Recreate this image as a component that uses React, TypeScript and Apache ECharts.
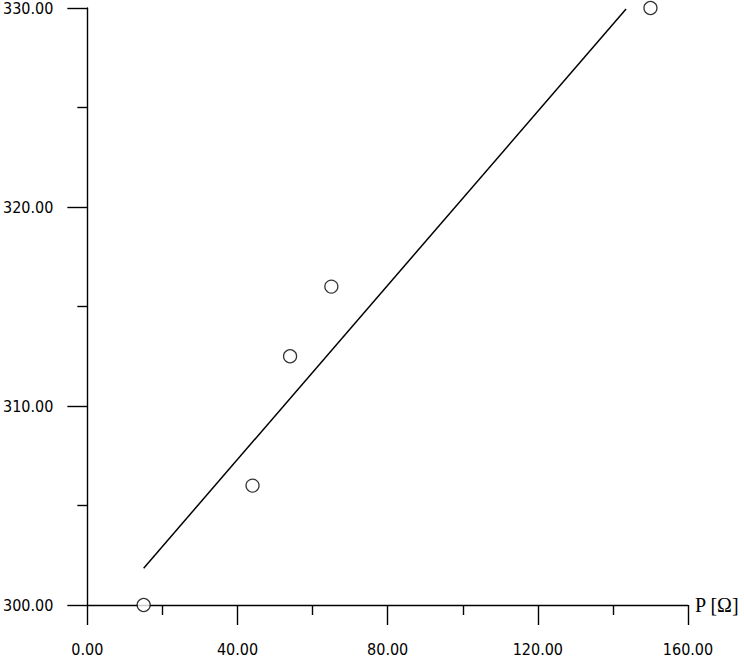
import React, { useEffect, useRef } from "react";
import * as echarts from "echarts";

// Measured points: P [Ω] vs value
const pointsX = [15, 44, 54, 65, 150];
const pointsY = [300, 306, 312.5, 316, 330];
// Fitted line endpoints
const fitX = [15, 143.5];
const fitY = [301.85, 329.95];

const xMin = 0, xMax = 160, xInterval = 40;
const yMin = 300, yMax = 330, yInterval = 10;
const xName = "P [Ω]";

export default function App() {
  const ref = useRef<HTMLDivElement>(null);
  useEffect(() => {
    if (!ref.current) return;
    const chart = echarts.init(ref.current, null, { renderer: "svg" });
    const labelFont = "'Liberation Sans Narrow', 'DejaVu Sans Condensed', 'DejaVu Sans', sans-serif";
    const axisCommon = {
      axisLine: { show: true, onZero: false, lineStyle: { color: "#000", width: 1.4 } },
      axisTick: { show: true, inside: false, length: 20, lineStyle: { color: "#000", width: 1.4 } },
      minorTick: { show: true, splitNumber: 2, length: 10, lineStyle: { color: "#000", width: 1.4 } },
      splitLine: { show: false },
      minorSplitLine: { show: false },
    };
    chart.setOption({
      animation: false,
      backgroundColor: "#fff",
      grid: { left: 86, right: 56, top: 7, bottom: 56, containLabel: false },
      xAxis: {
        type: "value",
        min: xMin,
        max: xMax,
        interval: xInterval,
        ...axisCommon,
        axisLabel: {
          color: "#000",
          fontFamily: labelFont,
          fontSize: 16,
          margin: 36,
          formatter: (v: number) => v.toFixed(2),
        },
        name: xName,
        nameLocation: "end",
        nameGap: 7,
        nameTextStyle: {
          color: "#000",
          fontFamily: "'Liberation Serif', serif",
          fontSize: 20,
          verticalAlign: "middle",
          padding: [0, 0, 8, 0],
        },
      },
      yAxis: {
        type: "value",
        min: yMin,
        max: yMax,
        interval: yInterval,
        ...axisCommon,
        axisLabel: {
          color: "#000",
          fontFamily: labelFont,
          fontSize: 16,
          margin: 34,
          formatter: (v: number) => v.toFixed(2),
        },
      },
      series: [
        {
          type: "line",
          data: fitX.map((x, i) => [x, fitY[i]]),
          showSymbol: false,
          symbol: "none",
          lineStyle: { color: "#000", width: 1.5 },
          silent: true,
        },
        {
          type: "scatter",
          data: pointsX.map((x, i) => [x, pointsY[i]]),
          symbol: "circle",
          symbolSize: 13,
          itemStyle: { color: "#fff", borderColor: "#000", borderWidth: 1.3 },
          clip: false,
        },
      ],
    });
    return () => chart.dispose();
  }, []);
  return (
    <div
      ref={ref}
      style={{ position: "fixed", left: 0, top: 0, width: 744, height: 661, background: "#fff" }}
    />
  );
}
